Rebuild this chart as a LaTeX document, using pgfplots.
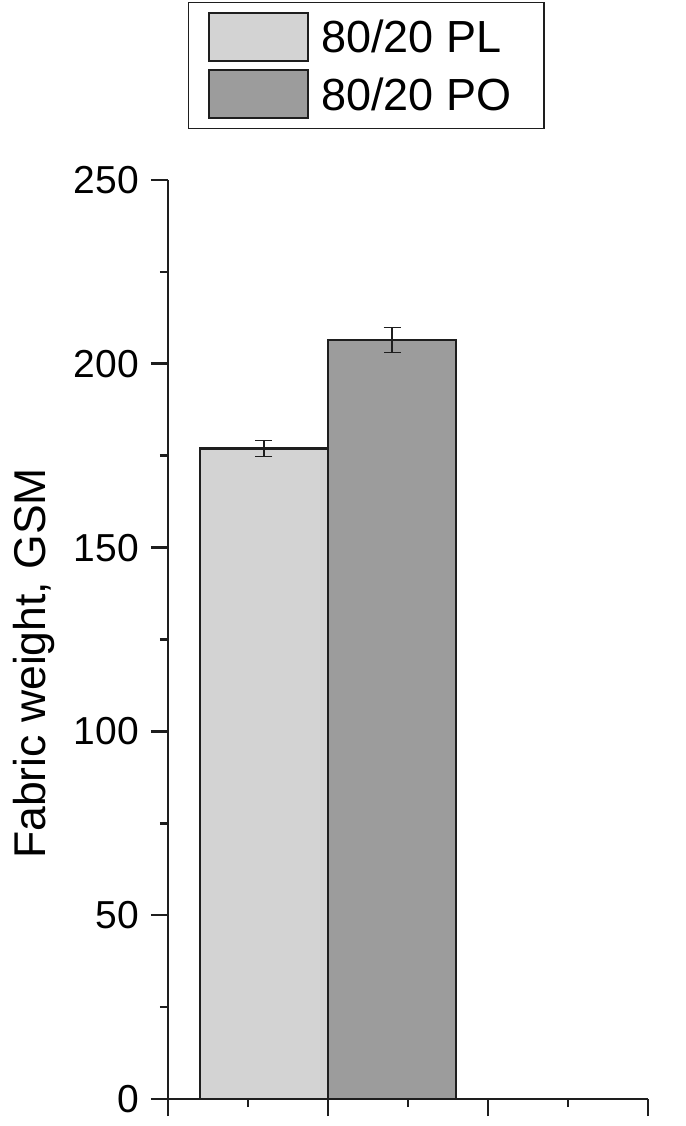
\documentclass[border=0pt]{standalone}
\usepackage{fontspec}
\setmainfont{Liberation Sans}
\usepackage{pgfplots}
\pgfplotsset{compat=1.18}

\definecolor{barPL}{HTML}{D3D3D3}
\definecolor{barPO}{HTML}{9C9C9C}
\definecolor{edge}{HTML}{1E1E1E}

\begin{document}
\begin{tikzpicture}
\begin{axis}[
  name=ax, at={(0,0)}, anchor=south west,
  scale only axis,
  width=480pt, height=919pt,
  xmin=0, xmax=3, ymin=0, ymax=250,
  axis x line*=bottom, axis y line*=left,
  axis line style={-, line width=2.6pt, color=edge},
  xtick={0,1,2,3}, minor xtick={0.5,1.5,2.5}, xticklabels={},
  ytick={0,50,...,250}, minor ytick={25,75,...,225},
  tick align=outside,
  major tick length=17pt, minor tick length=8pt,
  every tick/.style={line width=2.6pt, color=edge},
  /pgf/number format/assume math mode=true,
  tick label style={font=\fontsize{39}{46}\selectfont},
  yticklabel style={inner sep=0pt, xshift=-12pt},
  ylabel={Fabric weight, GSM},
  every axis y label/.style={at={(axis description cs:-0.280,0.474)}, rotate=90,
    anchor=center, inner sep=0pt, font=\fontsize{44.5}{53}\selectfont},
  ybar, bar width=0.8,
  legend cell align=left,
  legend style={at={(axis description cs:0.0417,1.1937)}, anchor=north west,
    draw=edge, line width=1.2pt, inner xsep=19pt, inner ysep=9pt, row sep=7pt,
    font=\fontsize{45}{54}\selectfont,
    cells={anchor=base west, inner sep=0pt},
    /tikz/every odd column/.append style={column sep=10pt}},
  legend image code/.code={\draw[#1, line width=2.4pt] (0pt,-8pt) rectangle (99pt,40pt);},
]
\addplot+[bar shift=0pt, fill=barPL, draw=edge, line width=2.4pt,
  error bars/.cd, y dir=both, y explicit,
  error bar style={line width=1.3pt, color=edge},
  error mark options={rotate=90, mark size=8.5pt, line width=1.3pt, color=edge}]
  coordinates {(0.6,177.0) +- (0,2.2)};
\addlegendentry{\makebox[202pt][l]{80/20 PL}}
\addplot+[bar shift=0pt, fill=barPO, draw=edge, line width=2.4pt,
  error bars/.cd, y dir=both, y explicit,
  error bar style={line width=1.3pt, color=edge},
  error mark options={rotate=90, mark size=8.5pt, line width=1.3pt, color=edge}]
  coordinates {(1.4,206.5) +- (0,3.4)};
\addlegendentry{\makebox[202pt][l]{80/20 PO}}
\end{axis}
\pgfresetboundingbox
\path (-168pt,-27pt) rectangle (517pt,1099pt);
\end{tikzpicture}
\end{document}
